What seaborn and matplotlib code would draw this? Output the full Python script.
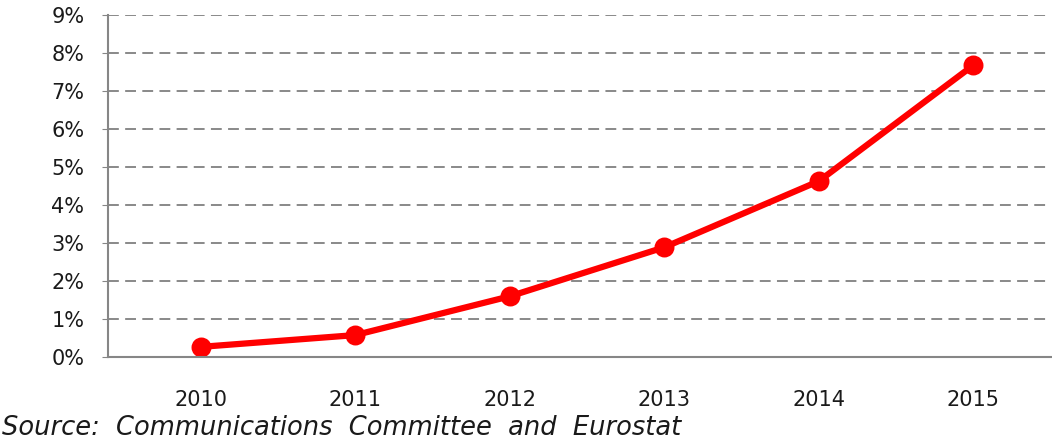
import seaborn as sns
import pandas as pd
import matplotlib.pyplot as plt
from matplotlib.ticker import PercentFormatter

years = ["2010", "2011", "2012", "2013", "2014", "2015"]
share = [0.27, 0.58, 1.6, 2.89, 4.63, 7.68]

df = pd.DataFrame({"year": years, "share": share})

sns.set_style("white")
plt.rcParams['font.family'] = ['DejaVu Sans']

fig = plt.figure(figsize=(10.52, 4.42), dpi=100)
ax = fig.add_axes([0.1027, 0.192, 0.896, 0.774])

sns.pointplot(data=df, x="year", y="share", color="#ff0000", ax=ax,
              markers="o", linewidth=4.5, markersize=11)

ax.set_xlim(-0.6, 5.5)
ax.set_ylim(0, 9)
ax.set_yticks(range(0, 10))
ax.yaxis.set_major_formatter(PercentFormatter(decimals=0))
ax.yaxis.grid(True, linestyle=(0, (6, 3.5)), color="#808080", linewidth=1.3)
ax.set_axisbelow(True)
ax.set_xlabel("")
ax.set_ylabel("")

for s in ["top", "right"]:
    ax.spines[s].set_visible(False)
for s in ["left", "bottom"]:
    ax.spines[s].set_color("#868686")
    ax.spines[s].set_linewidth(1.5)

ax.tick_params(axis="y", left=True, length=4, color="#868686", labelsize=15, pad=13, labelcolor="#1a1a1a")
ax.tick_params(axis="x", bottom=False, labelsize=15, pad=20, labelcolor="#1a1a1a")

fig.text(0.002, 0.015, "Source:  Communications  Committee  and  Eurostat",
         fontsize=18.5, style="italic", color="#1a1a1a")

fig.savefig("out.png", dpi=100)
